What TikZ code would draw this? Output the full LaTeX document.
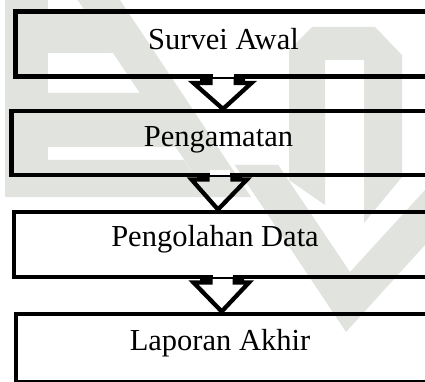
\documentclass[tikz,border=0pt]{standalone}
\usepackage{fontspec}
\setmainfont{Liberation Serif}
\definecolor{wmgray}{RGB}{225,227,222}
\newcommand\lblsize{\fontsize{30.5pt}{34pt}\selectfont}
\begin{document}
\begin{tikzpicture}[x=1pt,y=-1pt,
  box/.style={draw=black, line width=4.3pt, anchor=north west, inner sep=0pt},
  lbl/.style={anchor=base, inner sep=0pt},
  arrowline/.style={draw=black, line width=4.3pt, line join=miter},
  wm/.style={fill=wmgray, draw=none},
]
\useasboundingbox (0,0) rectangle (425,382);
% watermark (faint background logo)
\fill[wm] (5,0) rectangle (48,197);
\fill[wm] (48,12) -- (85.7,12) -- (113,53) -- (48,53) -- cycle;
\fill[wm] (5,93) -- (140,93) -- (176,147) -- (5,147) -- cycle;
\fill[wm] (5,160) -- (184,160) -- (209,197) -- (5,197) -- cycle;
\fill[wm] (77.7,0) -- (120,0) -- (251,197) -- (209,197) -- cycle;
\fill[wm] (234.7,165) -- (278.3,165) -- (350,272) -- (425,190) -- (425,245) -- (346,332) -- cycle;
\fill[wm] (289,50) -- (312,27) -- (375,27) -- (402,55) -- (402,177) -- (364,223)
  -- (364,60) -- (325,60) -- (325,205) -- (289,180) -- cycle;
% boxes
\node[box, minimum width=430pt, minimum height=65pt] (b1) at (13.3,9.5) {};
\node[box, minimum width=430pt, minimum height=63.5pt] (b2) at (9.3,109) {};
\node[box, minimum width=430pt, minimum height=65pt] (b3) at (11.5,209.5) {};
\node[box, minimum width=430pt, minimum height=68pt] (b4) at (13.5,311.5) {};
% labels
\node[lbl] (t1) at (223.5,49.3) {\lblsize Survei Awal};
\node[lbl] (t2) at (218.5,146.7) {\lblsize Pengamatan};
\node[lbl] (t3) at (215,246.7) {\lblsize Pengolahan Data};
\node[lbl] (t4) at (220,350) {\lblsize Laporan Akhir};
% block arrows
\fill[white] (212.6,72.2) rectangle (233.6,76.8);
\draw[arrowline] (200,0 |- b1.south) -- (210.5,0 |- b1.south) -- (210.5,83) -- (193.5,83)
  -- (223,0 |- b2.north) -- (251.5,83) -- (235.7,83) -- (235.7,0 |- b1.south) -- (245,0 |- b1.south);
\fill[white] (209.6,170.4) rectangle (230.4,175);
\draw[arrowline] (197,0 |- b2.south) -- (207.5,0 |- b2.south) -- (207.5,179.5) -- (191.5,179.5)
  -- (218,0 |- b3.north) -- (247,179.5) -- (232.5,179.5) -- (232.5,0 |- b2.south) -- (242,0 |- b2.south);
\fill[white] (212.6,272.4) rectangle (232.7,277);
\draw[arrowline] (200,0 |- b3.south) -- (210.5,0 |- b3.south) -- (210.5,282.5) -- (193.5,282.5)
  -- (221.7,0 |- b4.north) -- (249,282.5) -- (234.8,282.5) -- (234.8,0 |- b3.south) -- (244,0 |- b3.south);
\end{tikzpicture}
\end{document}
